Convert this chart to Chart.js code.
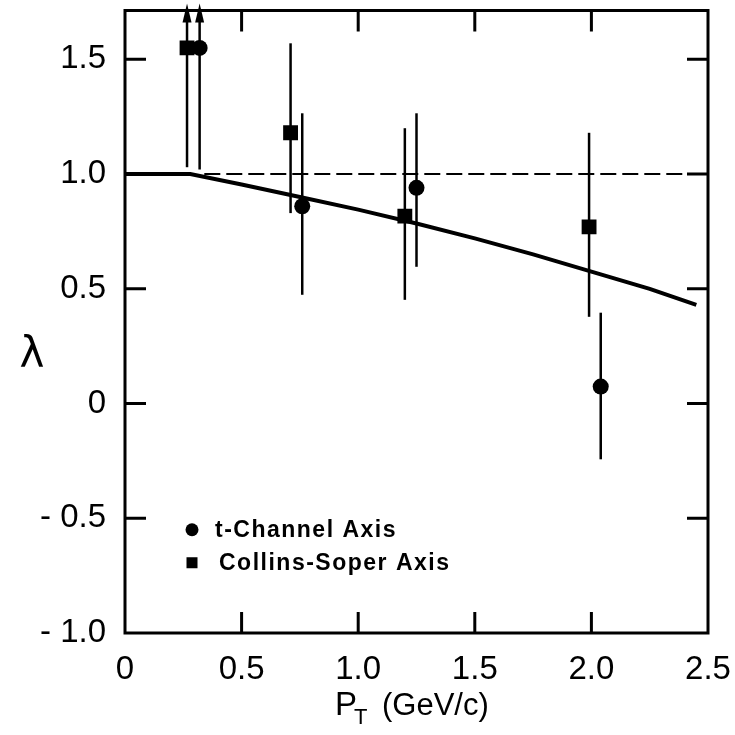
<!DOCTYPE html>
<html><head><meta charset="utf-8">
<script src="https://cdn.jsdelivr.net/npm/chart.js@4.4.1/dist/chart.umd.min.js"></script>
<style>html,body{margin:0;padding:0;background:#fff;}</style>
</head><body>
<canvas id="c" width="735" height="735"></canvas>
<script>
// ---- data ----
const tChannelLabel = 't-Channel Axis';
const tChannelX = [0.32, 0.76, 1.25, 2.04];
const tChannelY = [1.55, 0.86, 0.94, 0.074];
const tChannelLow = [1.02, 0.474, 0.596, -0.243];
const tChannelHigh = [null, 1.265, 1.265, 0.396]; // null = lower limit, drawn as arrow

const csLabel = 'Collins-Soper Axis';
const csX = [0.266, 0.71, 1.20, 1.99];
const csY = [1.55, 1.18, 0.817, 0.77];
const csLow = [1.03, 0.83, 0.452, 0.378];
const csHigh = [null, 1.57, 1.20, 1.18];

const theoryX = [0, 0.28, 0.5, 0.75, 1.0, 1.25, 1.5, 1.75, 2.0, 2.25, 2.45];
const theoryY = [1.0, 1.0, 0.955, 0.90, 0.845, 0.785, 0.72, 0.65, 0.575, 0.50, 0.43];

const refX = [0.34, 2.5];
const refY = [1, 1];

const xTicks = [0, 0.5, 1, 1.5, 2, 2.5];
const xTickLabels = ['0', '0.5', '1.0', '1.5', '2.0', '2.5'];
const yTicks = [-1, -0.5, 0, 0.5, 1, 1.5];
const yTickLabels = ['- 1.0', '- 0.5', '0', '0.5', '1.0', '1.5'];
const xInnerTicks = [0.5, 1, 1.5, 2];
const yInnerTicks = [-0.5, 0, 0.5, 1, 1.5];

const xTitleMain = 'P';
const xTitleSub = 'T';
const xTitleUnit = '(GeV/c)';
const yTitle = 'λ';

const pts = (xs, ys) => xs.map((x, i) => ({x: x, y: ys[i]}));

const paperPlugin = {
  id: 'paper',
  beforeDatasetsDraw(chart) {
    const ctx = chart.ctx, xs = chart.scales.x, ys = chart.scales.y, area = chart.chartArea;
    ctx.save();
    ctx.strokeStyle = '#000';
    ctx.fillStyle = '#000';
    ctx.lineWidth = 2.5;
    chart.data.datasets.forEach(ds => {
      if (!ds.errLow) return;
      ds.data.forEach((p, i) => {
        const px = xs.getPixelForValue(p.x);
        const yl = ys.getPixelForValue(ds.errLow[i]);
        if (ds.errHigh[i] === null) {
          const tip = area.top - 7;
          ctx.beginPath();
          ctx.moveTo(px, yl);
          ctx.lineTo(px, tip + 12);
          ctx.stroke();
          ctx.beginPath();
          ctx.moveTo(px, tip);
          ctx.lineTo(px - 4.5, tip + 19);
          ctx.lineTo(px + 4.5, tip + 19);
          ctx.closePath();
          ctx.fill();
        } else {
          const yh = ys.getPixelForValue(ds.errHigh[i]);
          ctx.beginPath();
          ctx.moveTo(px, yl);
          ctx.lineTo(px, yh);
          ctx.stroke();
        }
      });
    });
    ctx.restore();
  },
  afterDraw(chart) {
    const ctx = chart.ctx, xs = chart.scales.x, ys = chart.scales.y, a = chart.chartArea;
    ctx.save();
    ctx.strokeStyle = '#000';
    ctx.fillStyle = '#000';
    ctx.lineWidth = 3;
    ctx.strokeRect(a.left, a.top, a.right - a.left, a.bottom - a.top);
    const tl = 21;
    ctx.beginPath();
    xInnerTicks.forEach(v => {
      const px = xs.getPixelForValue(v);
      ctx.moveTo(px, a.bottom); ctx.lineTo(px, a.bottom - tl);
      ctx.moveTo(px, a.top); ctx.lineTo(px, a.top + tl);
    });
    yInnerTicks.forEach(v => {
      const py = ys.getPixelForValue(v);
      ctx.moveTo(a.left, py); ctx.lineTo(a.left + tl, py);
      ctx.moveTo(a.right, py); ctx.lineTo(a.right - tl, py);
    });
    ctx.stroke();

    // legend (inside plot)
    const lx = a.left + 67;
    const ly1 = ys.getPixelForValue(-0.55);
    const ly2 = ly1 + 33;
    ctx.beginPath();
    ctx.arc(lx, ly1, 6.5, 0, Math.PI * 2);
    ctx.fill();
    ctx.fillRect(lx - 5.5, ly2 - 5.5, 11, 11);
    ctx.font = 'bold 23px "Liberation Sans", Arial, sans-serif';
    ctx.textBaseline = 'middle';
    ctx.textAlign = 'left';
    try { ctx.letterSpacing = '1.5px'; } catch (e) {}
    ctx.fillText(chart.data.datasets[0].label, lx + 23, ly1 + 1);
    ctx.fillText(chart.data.datasets[1].label, lx + 27, ly2 + 1);
    try { ctx.letterSpacing = '0px'; } catch (e) {}

    // axis titles
    ctx.textBaseline = 'alphabetic';
    ctx.font = '33px "Liberation Sans", Arial, sans-serif';
    ctx.fillText(xTitleMain, 335, 715);
    ctx.font = '22px "Liberation Sans", Arial, sans-serif';
    ctx.fillText(xTitleSub, 354, 724);
    ctx.font = '31px "Liberation Sans", Arial, sans-serif';
    ctx.fillText(xTitleUnit, 382, 715);
    ctx.font = '42px "DejaVu Sans", sans-serif';
    ctx.textAlign = 'center';
    ctx.textBaseline = 'middle';
    ctx.fillText(yTitle, 32, 356);
    ctx.restore();
  }
};

const tickFont = {family: '"Liberation Sans", Arial, sans-serif', size: 33};

new Chart(document.getElementById('c'), {
  type: 'scatter',
  data: {
    datasets: [
      {label: tChannelLabel, data: pts(tChannelX, tChannelY), errLow: tChannelLow, errHigh: tChannelHigh,
       pointStyle: 'circle', pointRadius: 8, backgroundColor: '#000', borderWidth: 0, order: 1},
      {label: csLabel, data: pts(csX, csY), errLow: csLow, errHigh: csHigh,
       pointStyle: 'rect', pointRadius: 10.5, backgroundColor: '#000', borderWidth: 0, order: 1},
      {label: 'theory', data: pts(theoryX, theoryY), showLine: true, pointRadius: 0,
       borderColor: '#000', borderWidth: 4, tension: 0, order: 2},
      {label: 'ref', data: pts(refX, refY), showLine: true, pointRadius: 0,
       borderColor: '#000', borderWidth: 2, borderDash: [16, 6], order: 3}
    ]
  },
  options: {
    responsive: false,
    animation: false,
    devicePixelRatio: 1,
    layout: {padding: {top: 10, right: 27, left: 0, bottom: 0}},
    plugins: {legend: {display: false}, tooltip: {enabled: false}},
    scales: {
      x: {
        type: 'linear', min: 0, max: 2.5,
        afterBuildTicks: s => { s.ticks = xTicks.map(v => ({value: v})); },
        afterFit: s => { s.height = 102; s.paddingLeft = 0; s.paddingRight = 0; },
        grid: {display: false, drawTicks: false}, border: {display: false},
        ticks: {color: '#000', font: tickFont, padding: 17, maxRotation: 0, autoSkip: false,
          callback: v => xTickLabels[xTicks.indexOf(v)]}
      },
      y: {
        type: 'linear', min: -1, max: 1.713,
        afterBuildTicks: s => { s.ticks = yTicks.map(v => ({value: v})); },
        afterFit: s => { s.width = 125; s.paddingTop = 0; s.paddingBottom = 0; },
        grid: {display: false, drawTicks: false}, border: {display: false},
        ticks: {color: '#000', font: tickFont, padding: 19, autoSkip: false,
          callback: v => yTickLabels[yTicks.indexOf(v)]}
      }
    }
  },
  plugins: [paperPlugin]
});
</script>
</body></html>
